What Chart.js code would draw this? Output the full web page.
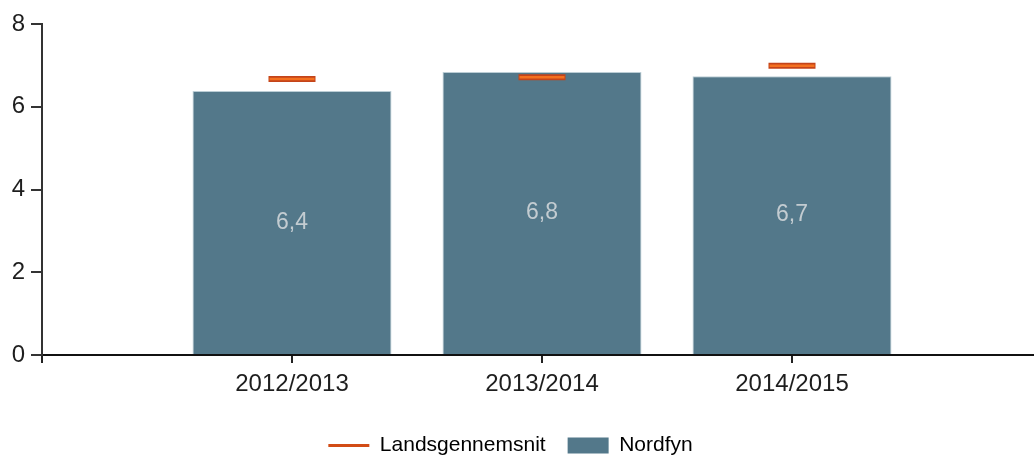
<!DOCTYPE html>
<html>
<head>
<meta charset="utf-8">
<script src="https://cdn.jsdelivr.net/npm/chart.js@4/dist/chart.umd.min.js"></script>
<style>
  html, body { margin: 0; padding: 0; background: #fff; overflow: hidden; }
  #wrap { width: 1049px; height: 466px; }
</style>
</head>
<body>
<div id="wrap"><canvas id="chart" width="1049" height="466"></canvas></div>
<script>
const seasons = ["2012/2013", "2013/2014", "2014/2015"];
const nordfyn = [6.38, 6.84, 6.74];
const landsgennemsnit = [6.67, 6.71, 6.99];
const yTicks = [0, 2, 4, 6, 8];

// empty slots on both sides so the bars sit where the original puts them
const labels = ["", ...seasons, ""];
const pad = arr => [null, ...arr, null];

const barColor = "#53788a";
const textColor = "#1e1e1e";

// no radius on the empty slots, otherwise chart.js reserves room for them
const markerRadius = r => ctx => (ctx.raw == null ? 0 : r);

const barLabels = {
  id: "barLabels",
  afterDatasetsDraw(chart) {
    const ctx = chart.ctx;
    const meta = chart.getDatasetMeta(2);
    const data = chart.data.datasets[2].data;
    ctx.save();
    ctx.font = "23px 'Liberation Sans', Arial, sans-serif";
    ctx.fillStyle = "#c3ccd1";
    ctx.textAlign = "center";
    ctx.textBaseline = "middle";
    meta.data.forEach((bar, i) => {
      if (data[i] == null) return;
      const p = bar.getProps(["x", "y", "base"], true);
      ctx.fillText(data[i].toFixed(1).replace(".", ","), p.x, (p.y + p.base) / 2);
    });
    ctx.restore();
  }
};

new Chart(document.getElementById("chart").getContext("2d"), {
  type: "bar",
  data: {
    labels: labels,
    datasets: [
      {
        type: "line",
        label: "Landsgennemsnit",
        data: pad(landsgennemsnit),
        showLine: false,
        pointStyle: "line",
        pointRadius: markerRadius(23.5),
        pointHoverRadius: markerRadius(23.5),
        pointBorderWidth: 6,
        pointBorderColor: "#c4441a",
        order: 1
      },
      {
        type: "line",
        label: "inner",
        data: pad(landsgennemsnit),
        showLine: false,
        pointStyle: "line",
        pointRadius: markerRadius(22.5),
        pointHoverRadius: markerRadius(22.5),
        pointBorderWidth: 2.5,
        pointBorderColor: "#f4701f",
        order: 0
      },
      {
        label: "Nordfyn",
        data: pad(nordfyn),
        backgroundColor: barColor,
        borderColor: "rgba(170,192,202,0.8)",
        borderWidth: 1,
        categoryPercentage: 1,
        barPercentage: 0.796,
        order: 2
      }
    ]
  },
  options: {
    responsive: false,
    animation: false,
    layout: { padding: { top: 24, left: -28, right: 0, bottom: 0 } },
    scales: {
      x: {
        offset: false,
        grid: {
          offset: false,
          drawOnChartArea: false,
          tickLength: 8,
          color: "#222",
          lineWidth: 2
        },
        border: { display: true, color: "#111", width: 2 },
        ticks: {
          color: textColor,
          padding: 7,
          autoSkip: false,
          maxRotation: 0,
          font: { family: "'Liberation Sans', Arial, sans-serif", size: 24 }
        },
        afterFit(scale) { scale.height = 58; }
      },
      y: {
        min: 0,
        max: 8,
        afterBuildTicks(scale) { scale.ticks = yTicks.map(v => ({ value: v })); },
        grid: {
          drawOnChartArea: false,
          tickLength: 11,
          color: "#333",
          lineWidth: 2
        },
        border: { display: true, color: "#333", width: 2 },
        ticks: {
          color: textColor,
          padding: 6,
          font: { family: "'Liberation Sans', Arial, sans-serif", size: 24 }
        },
        afterFit(scale) { scale.width = 70; }
      }
    },
    plugins: {
      tooltip: { enabled: false },
      legend: {
        position: "bottom",
        labels: {
          usePointStyle: true,
          pointStyleWidth: 41,
          boxHeight: 16,
          padding: 22,
          color: textColor,
          font: { family: "'Liberation Sans', Arial, sans-serif", size: 21 },
          generateLabels() {
            return [
              { text: "Landsgennemsnit", pointStyle: "line", strokeStyle: "#d24c16", fillStyle: "#d24c16", lineWidth: 3, datasetIndex: 0 },
              { text: "Nordfyn", pointStyle: "rect", strokeStyle: barColor, fillStyle: barColor, lineWidth: 0, datasetIndex: 2 }
            ];
          }
        }
      }
    }
  },
  plugins: [barLabels]
});
</script>
</body>
</html>
